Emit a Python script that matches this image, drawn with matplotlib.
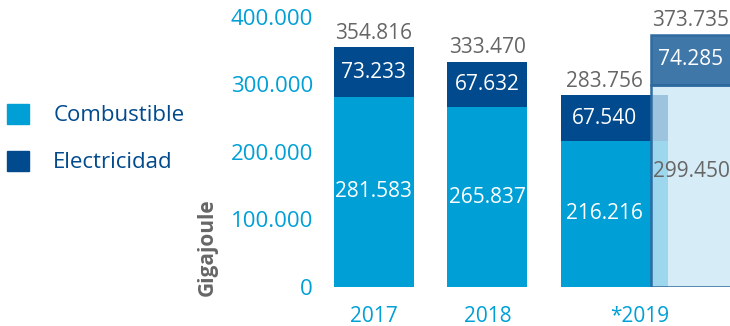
import matplotlib.pyplot as plt
from matplotlib.patches import Patch

plt.rcParams['font.family'] = ['Open Sans', 'DejaVu Sans']

years = ['2017', '2018', '*2019']
combustible = [281583, 265837, 216216]
electricidad = [73233, 67632, 67540]
totales = [354816, 333470, 283756]
proyeccion_comb = 299450
proyeccion_elec = 74285
proyeccion_total = 373735

def fmt(v):
    return f'{v:,}'.replace(',', '.')

c_comb = '#00a0d6'
c_elec = '#004a8d'
c_gray = '#666666'

fig = plt.figure(figsize=(7.3, 3.26), dpi=100)
ax = fig.add_axes([320 / 730, 39 / 326, 410 / 730, 287 / 326])

x = [0, 1, 2]
widths = [0.705, 0.705, 0.943]
ax.bar(x, combustible, widths, align='edge', color=c_comb, zorder=2)
ax.bar(x, electricidad, widths, bottom=combustible, align='edge', color=c_elec, zorder=2)

# centro de las etiquetas de cada barra
label_x = [0.352, 1.352, 2.379]
for cx, c, e, t in zip(label_x, combustible, electricidad, totales):
    ax.text(cx, c / 2, fmt(c), ha='center', va='center', color='white', fontsize=15, zorder=4)
    ax.text(cx, c + e / 2, fmt(e), ha='center', va='center', color='white', fontsize=15, zorder=4)
    ax.text(cx, c + e + 5000, fmt(t), ha='center', va='bottom', color=c_gray, fontsize=15, zorder=4)

# barra superpuesta de 2019 (proyección)
px, pw = 2.793, 0.705
ax.bar(px, proyeccion_comb, pw, align='edge', color=(203/255, 231/255, 246/255, 0.78),
       edgecolor='#2f6ba0', linewidth=1.8, zorder=3)
ax.bar(px, proyeccion_elec, pw, bottom=proyeccion_comb, align='edge',
       color=(0, 74/255, 141/255, 0.75), edgecolor='#2f6ba0', linewidth=1.8, zorder=3)
pcx = px + pw / 2
ax.text(pcx, proyeccion_comb * 0.57, fmt(proyeccion_comb), ha='center', va='center',
        color=c_gray, fontsize=15, zorder=4)
ax.text(pcx, proyeccion_comb + proyeccion_elec / 2, fmt(proyeccion_elec), ha='center',
        va='center', color='white', fontsize=15, zorder=4)
ax.text(pcx, proyeccion_comb + proyeccion_elec + 5000, fmt(proyeccion_total),
        ha='center', va='bottom', color=c_gray, fontsize=15, zorder=4)

ax.set_xlim(-0.123, 3.489)
ax.set_ylim(0, 425000)
yticks = [0, 100000, 200000, 300000, 400000]
ax.set_yticks(yticks)
ax.set_yticklabels([fmt(v) for v in yticks])
ax.set_xticks([0.352, 1.352, 2.696])
ax.set_xticklabels(years)
ax.tick_params(axis='both', length=0, labelsize=15, labelcolor=c_comb)
ax.tick_params(axis='y', pad=5, labelsize=16)
ax.tick_params(axis='x', pad=14)
for s in ax.spines.values():
    s.set_visible(False)

fig.text(207 / 730, (326 - 247) / 326, 'Gigajoule', rotation=90, ha='center', va='center',
         color=c_gray, fontsize=15, fontweight='bold')

handles = [Patch(color=c_comb), Patch(color=c_elec)]
fig.legend(handles, ['Combustible', 'Electricidad'], loc='upper left',
           bbox_to_anchor=(0.0, (326 - 97) / 326), frameon=False, fontsize=16,
           labelcolor=c_elec, handlelength=1.0, handleheight=1.0, handletextpad=1.1,
           labelspacing=1.1, borderaxespad=0, borderpad=0.3)

fig.savefig('out.png', dpi=100)
